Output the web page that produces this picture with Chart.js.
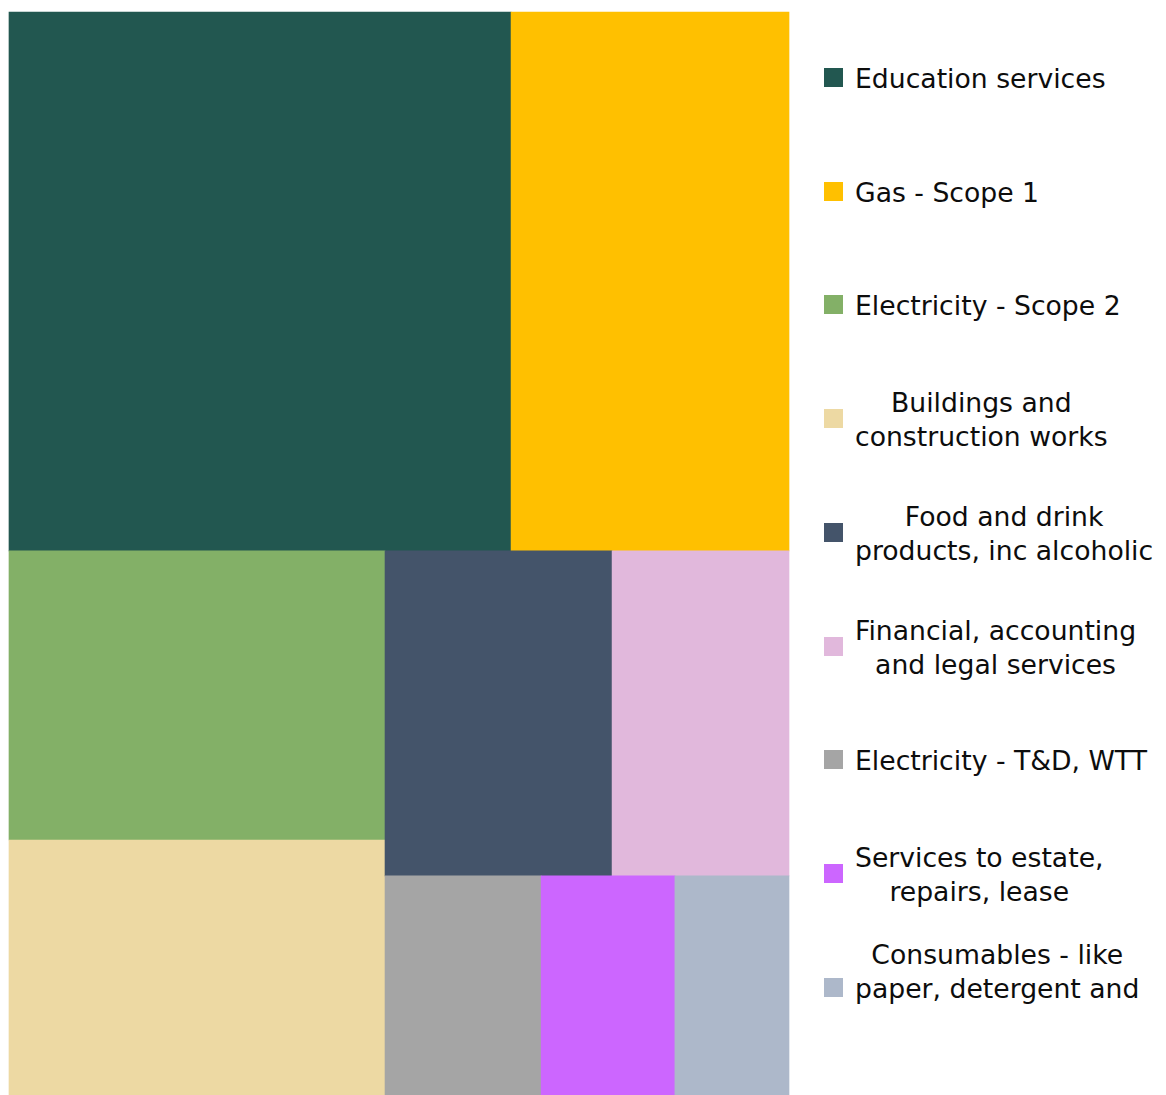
<!DOCTYPE html>
<html>
<head>
<meta charset="utf-8">
<script src="https://cdn.jsdelivr.net/npm/chart.js@4.4.1/dist/chart.umd.min.js"></script>
<style>
  html, body { margin: 0; padding: 0; background: #ffffff; }
  body { width: 1166px; height: 1095px; position: relative; overflow: hidden; }
  #chartBox { position: absolute; left: 0; top: 0; width: 800px; height: 1095px; }
  #legend { position: absolute; left: 824px; top: 20.6px; width: 342px; margin: 0; padding: 0; list-style: none;
            font-family: "DejaVu Sans", sans-serif; font-size: 26.67px; line-height: 34px; color: #0d0d0d; }
  #legend li { height: 113.75px; display: flex; align-items: center; }
  #legend .box { width: 19px; height: 19px; flex: 0 0 19px; margin-right: 12px; }
  #legend .txt { white-space: pre; text-align: center; padding-top: 3px; }
  #legend .txt.tail { padding-bottom: 34px; }
</style>
</head>
<body>
<div id="chartBox"><canvas id="c"></canvas></div>
<ul id="legend"></ul>
<script>
// ---- data ----
const categories = [
  "Education services",
  "Gas - Scope 1",
  "Electricity - Scope 2",
  "Buildings and\nconstruction works",
  "Food and drink\nproducts, inc alcoholic",
  "Financial, accounting\nand legal services",
  "Electricity - T&D, WTT",
  "Services to estate,\nrepairs, lease",
  "Consumables - like\npaper, detergent and"
];
const values = [270.6, 149.8, 108.7, 95.9, 73.8, 57.5, 34.2, 29.3, 25.0];
const colors = ["#225750", "#FFC000", "#83B067", "#EDD9A3", "#44546A", "#E1B8DC", "#A5A5A5", "#CC66FF", "#ADB8CA"];

// ---- squarified treemap controller (cells drawn as Chart.js bar elements) ----
function worst(row, side) {
  let s = 0, mx = -Infinity, mn = Infinity;
  for (const a of row) { s += a; if (a > mx) mx = a; if (a < mn) mn = a; }
  const s2 = s * s, w2 = side * side;
  return Math.max(w2 * mx / s2, s2 / (w2 * mn));
}
function squarify(vals, W, H) {
  const total = vals.reduce((a, b) => a + b, 0);
  const areas = vals.map(v => v * W * H / total);
  const out = [];
  const r = { x: 0, y: 0, w: W, h: H };
  let i = 0;
  while (i < areas.length) {
    const vertical = r.w >= r.h;
    const side = Math.min(r.w, r.h);
    let row = [areas[i]];
    let j = i + 1;
    while (j < areas.length) {
      const next = row.concat(areas[j]);
      if (worst(next, side) <= worst(row, side)) { row = next; j++; } else break;
    }
    const rowSum = row.reduce((a, b) => a + b, 0);
    const thick = rowSum / side;
    let off = 0;
    for (const a of row) {
      const len = a / thick;
      if (vertical) out.push({ x: r.x, y: r.y + off, w: thick, h: len });
      else out.push({ x: r.x + off, y: r.y, w: len, h: thick });
      off += len;
    }
    if (vertical) { r.x += thick; r.w -= thick; } else { r.y += thick; r.h -= thick; }
    i = j;
  }
  return out;
}

class TreemapController extends Chart.DatasetController {
  update(mode) {
    const meta = this._cachedMeta;
    this.updateElements(meta.data, 0, meta.data.length, mode);
  }
  updateElements(elements, start, count, mode) {
    const meta = this._cachedMeta;
    const xs = meta.xScale, ys = meta.yScale;
    const W = Math.abs(xs.getPixelForValue(1) - xs.getPixelForValue(0));
    const H = Math.abs(ys.getPixelForValue(1) - ys.getPixelForValue(0));
    if (!isFinite(W) || !isFinite(H) || W <= 0 || H <= 0) return;
    const data = this.getDataset().data.map(Number);
    const rects = squarify(data, W, H);
    for (let i = start; i < start + count; i++) {
      const rc = rects[i];
      // normalised data-space coordinates, mapped back through the scales
      const x0 = rc.x / W, x1 = (rc.x + rc.w) / W;
      const y0 = rc.y / H, y1 = (rc.y + rc.h) / H;
      const left = xs.getPixelForValue(x0), right = xs.getPixelForValue(x1);
      const top = ys.getPixelForValue(y0), bottom = ys.getPixelForValue(y1);
      const options = this.resolveDataElementOptions(i, mode);
      this.updateElement(elements[i], i, {
        x: (left + right) / 2,
        y: top,
        base: bottom,
        width: right - left,
        height: bottom - top,
        horizontal: false,
        borderSkipped: {},
        enableBorderRadius: false,
        inflateAmount: 0.33,
        options
      }, 'none');
    }
  }
}
TreemapController.id = 'treemap';
TreemapController.defaults = { datasetElementType: false, dataElementType: 'bar' };
Chart.register(TreemapController);

// ---- HTML legend built from the chart's data ----
const htmlLegend = {
  id: 'htmlLegend',
  afterUpdate(chart) {
    const ul = document.getElementById('legend');
    ul.innerHTML = '';
    const ds = chart.data.datasets[0];
    chart.data.labels.forEach((lab, i) => {
      const li = document.createElement('li');
      const box = document.createElement('span');
      box.className = 'box';
      box.style.background = ds.backgroundColor[i];
      const txt = document.createElement('span');
      txt.className = 'txt' + (i === chart.data.labels.length - 1 ? ' tail' : '');
      txt.textContent = lab;
      li.appendChild(box);
      li.appendChild(txt);
      ul.appendChild(li);
    });
  }
};

new Chart(document.getElementById('c'), {
  type: 'treemap',
  data: {
    labels: categories,
    datasets: [{
      label: 'Emissions',
      data: values,
      backgroundColor: colors,
      borderWidth: 0
    }]
  },
  options: {
    responsive: true,
    maintainAspectRatio: false,
    animation: false,
    events: [],
    layout: { padding: { left: 9, top: 12, right: 11, bottom: 0 } },
    scales: {
      x: { type: 'linear', min: 0, max: 1, display: false },
      y: { type: 'linear', min: 0, max: 1, reverse: true, display: false }
    },
    plugins: {
      legend: { display: false },
      tooltip: { enabled: false }
    }
  },
  plugins: [htmlLegend]
});
</script>
</body>
</html>
